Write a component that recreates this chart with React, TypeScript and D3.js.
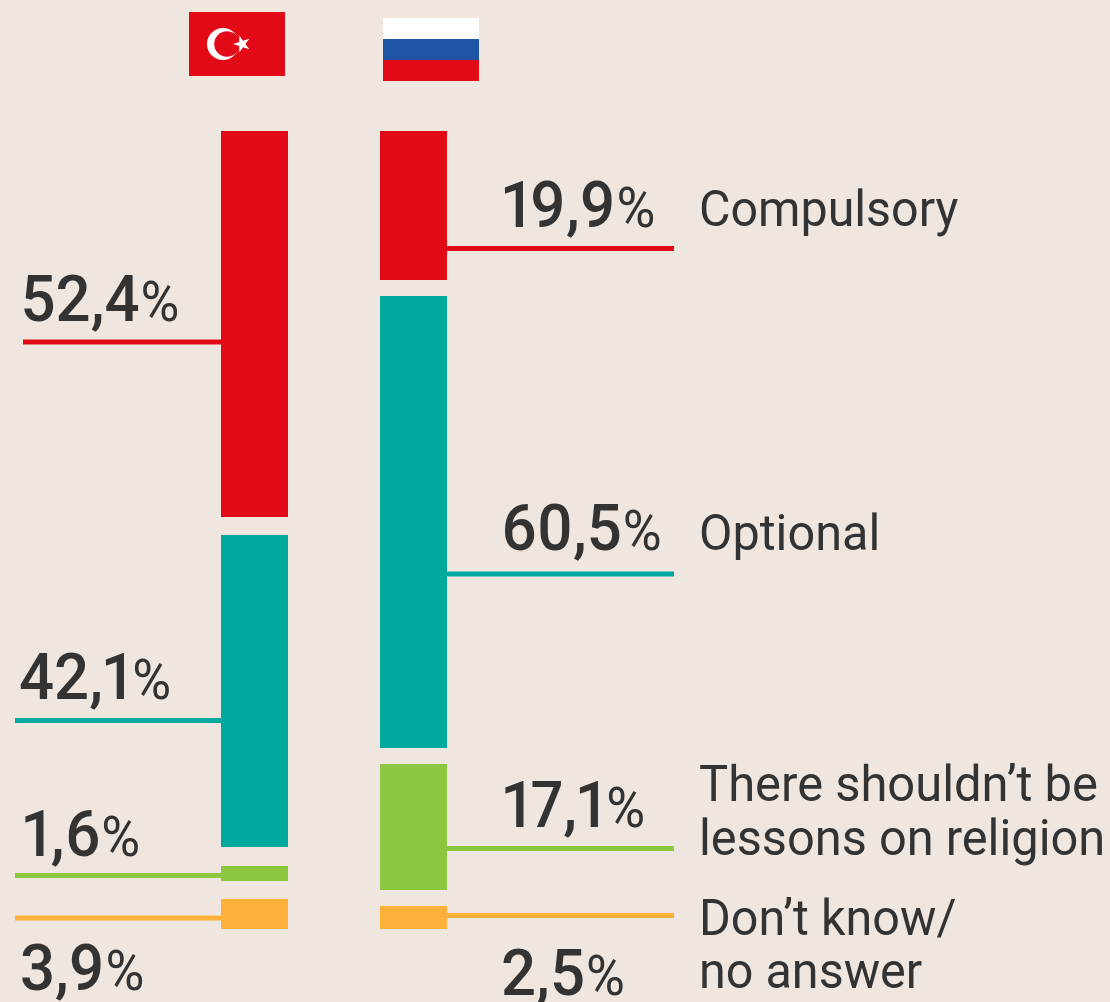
import React, { useEffect, useRef } from "react";
import * as d3 from "d3";

// Categories, top to bottom
const categories = ["Compulsory", "Optional", "No lessons", "Don't know"];
const colors = ["#e30a17", "#00a99d", "#8dc63f", "#fdb03a"];

// Printed percentages
const turkeyLabels = ["52,4", "42,1", "1,6", "3,9"];
const russiaLabels = ["19,9", "60,5", "17,1", "2,5"];

// Bar lengths as drawn in the picture (they differ a little from the printed numbers)
const turkeyBars = [52.0, 42.05, 2.0, 4.05];
const russiaBars = [20.1, 60.9, 17.0, 3.1];

const legendLines = [
  ["Compulsory"],
  ["Optional"],
  ["There shouldn\u2019t be", "lessons on religion"],
  ["Don\u2019t know/", "no answer"],
];

const W = 1110;
const H = 1002;
const TEXT = "#333333";
const FONT = "Roboto, sans-serif";

// Leader lines and number placement, per category
const turkeyLeaderY = [342, 720.5, 875.5, 918];
const russiaLeaderY = [248.5, 574, 848.5, 915.5];
const turkeyLeaderX = [23, 15, 15, 15];
const turkeyNumX = [20.5, 19, 22.5, 20];
const turkeyNumY = [321, 699, 856, 990];
const russiaNumX = [502, 501, 502.5, 501];
const russiaNumY = [227, 550, 827, 995];
const legendY = [[226], [550], [801, 855], [935, 988]];
const legendStretch = [[0.968], [0.972], [0.978, 0.975], [0.97, 0.97]];

const App = () => {
  const svgRef = useRef<SVGSVGElement>(null);

  useEffect(() => {
    const svg = d3.select(svgRef.current);
    svg.selectAll("*").remove();

    svg.append("rect").attr("width", W).attr("height", H).attr("fill", "#efe6e0");

    const lengthScale = d3.scaleLinear().domain([0, 100]).range([0, 742]);

    const drawColumn = (values: number[], x0: number, gap: number) => {
      const x = d3.scaleLinear().domain([0, 1]).range([x0, x0 + 67]);
      let y = 131;
      values.forEach((v, i) => {
        const h = lengthScale(v);
        const top = Math.round(y);
        svg
          .append("rect")
          .attr("x", x(0))
          .attr("y", top)
          .attr("width", x(1) - x(0))
          .attr("height", Math.round(y + h) - top)
          .attr("fill", colors[i]);
        y += h + gap;
      });
    };

    drawColumn(turkeyBars, 221, 18.5);
    drawColumn(russiaBars, 380, 16);

    const leader = (x1: number, x2: number, y: number, color: string) =>
      svg
        .append("line")
        .attr("x1", x1)
        .attr("x2", x2)
        .attr("y1", y)
        .attr("y2", y)
        .attr("stroke", color)
        .attr("stroke-width", 5);

    // proportional figures: the "1" in the reference is narrower than the other digits
    const number = (label: string, x: number, y: number) => {
      const t = svg
        .append("text")
        .attr("transform", `translate(${x},${y}) scale(0.965,1)`)
        .attr("font-family", FONT)
        .style("font-variant-numeric", "proportional-nums")
        .attr("fill", TEXT);
      t.append("tspan").attr("font-size", 64).attr("font-weight", 500).text(label);
      t.append("tspan").attr("font-size", 55).attr("font-weight", 400).attr("dx", 1).text("%");
    };

    categories.forEach((_, i) => {
      leader(turkeyLeaderX[i], 221, turkeyLeaderY[i], colors[i]);
      leader(447, 674, russiaLeaderY[i], colors[i]);
      number(turkeyLabels[i], turkeyNumX[i], turkeyNumY[i]);
      number(russiaLabels[i], russiaNumX[i], russiaNumY[i]);
      legendLines[i].forEach((line, j) => {
        svg
          .append("text")
          .attr("transform", `translate(699,${legendY[i][j]}) scale(${legendStretch[i][j]},1)`)
          .attr("font-family", FONT)
          .attr("font-size", 50)
          .attr("fill", TEXT)
          .text(line);
      });
    });

    // Turkish flag
    const tr = svg.append("g").attr("transform", "translate(189,12)");
    tr.append("rect").attr("width", 96).attr("height", 64).attr("fill", "#e30a17");
    tr.append("circle").attr("cx", 34).attr("cy", 32).attr("r", 16).attr("fill", "#fff");
    tr.append("circle").attr("cx", 38).attr("cy", 32).attr("r", 12.8).attr("fill", "#e30a17");
    tr.append("path")
      .attr("d", d3.symbol(d3.symbolStar, 90)() as string)
      .attr("transform", "translate(53,32) rotate(-90)")
      .attr("fill", "#fff");

    // Russian flag
    const stripes = d3.scaleBand().domain(["w", "b", "r"]).range([18, 81]);
    const stripeColor = d3
      .scaleOrdinal<string>()
      .domain(stripes.domain())
      .range(["#ffffff", "#1f55a5", "#e30a17"]);
    stripes.domain().forEach((s) => {
      svg
        .append("rect")
        .attr("x", 383)
        .attr("y", stripes(s) as number)
        .attr("width", 96)
        .attr("height", stripes.bandwidth())
        .attr("fill", stripeColor(s));
    });
  }, []);

  return (
    <svg
      ref={svgRef}
      width={W}
      height={H}
      style={{ position: "absolute", left: 0, top: 0 }}
    />
  );
};

export default App;
